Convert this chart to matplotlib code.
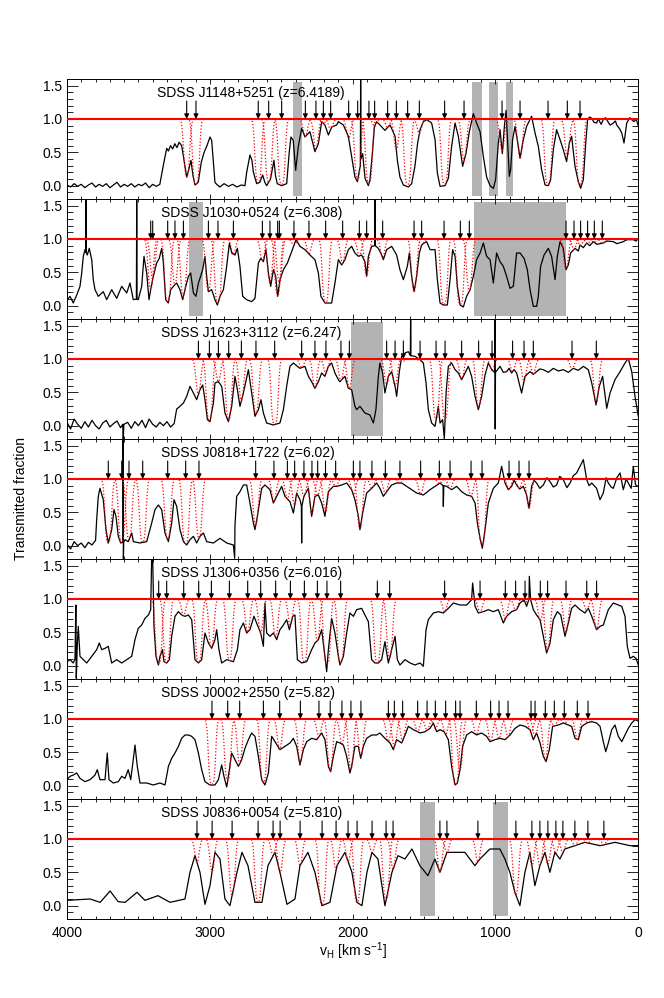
import numpy as np
import matplotlib.pyplot as plt
from matplotlib.ticker import MultipleLocator

plt.rcParams['font.family'] = ['Liberation Sans', 'DejaVu Sans']

names = ['SDSS J1148+5251 (z=6.4189)', 'SDSS J1030+0524 (z=6.308)',
         'SDSS J1623+3112 (z=6.247)', 'SDSS J0818+1722 (z=6.02)',
         'SDSS J1306+0356 (z=6.016)', 'SDSS J0002+2550 (z=5.82)',
         'SDSS J0836+0054 (z=5.810)']

# (velocity km/s, transmitted fraction)
spec1 = [(4000,0.01),(3975,-0.02),(3950,0.03),(3925,-0.01),(3900,0.02),(3875,-0.03),(3850,0.01),(3825,0.04),
         (3800,-0.02),(3775,0.02),(3750,-0.01),(3725,0.03),(3700,-0.03),(3675,0.01),(3650,0.05),(3625,-0.02),
         (3600,0.02),(3575,-0.01),(3550,0.03),(3525,-0.02),(3500,0.02),(3475,0.0),(3450,0.04),(3425,-0.03),
         (3400,0.02),(3375,-0.01),(3350,0.02),(3326,0.3),(3302,0.56),(3290,0.52),(3275,0.6),(3260,0.55),
         (3245,0.63),(3230,0.57),(3215,0.65),(3197,0.6),(3186,0.45),(3162,0.13),(3150,0.22),(3132,0.38),
         (3118,0.15),(3104,0.01),(3081,0.05),(3060,0.35),(3040,0.5),(3020,0.6),(2999,0.73),(2987,0.68),
         (2975,0.35),(2964,0.05),(2952,0.02),(2930,-0.02),(2900,0.03),(2870,-0.01),(2840,0.02),(2810,-0.02),
         (2780,0.01),(2754,0.0),(2742,0.2),(2719,0.46),(2705,0.38),(2695,0.2),(2672,0.03),(2650,0.05),
         (2630,0.16),(2615,0.05),(2602,0.0),(2575,0.1),(2551,0.38),(2540,0.15),(2528,0.03),(2497,0.0),
         (2462,0.03),(2444,0.5),(2432,0.73),(2416,0.68),(2399,0.23),(2381,0.58),(2357,0.86),(2334,0.73),
         (2299,0.81),(2264,0.51),(2240,0.63),(2217,0.96),(2194,0.91),(2170,0.76),(2147,0.88),(2112,0.91),
         (2100,0.96),(2065,0.91),(2030,0.74),(2007,0.44),(1984,0.13),(1967,0.06),(1953,0.23),(1946,0.3),
         (1944,1.65),(1942,0.4),(1930,0.48),(1913,0.11),(1890,0.0),(1879,0.09),(1862,0.48),(1848,0.88),
         (1832,0.96),(1809,0.91),(1774,0.83),(1738,0.91),(1703,0.74),(1687,0.38),(1669,0.13),(1645,0.01),
         (1610,-0.02),(1587,0.03),(1564,0.29),(1545,0.64),(1528,0.84),(1505,0.96),(1482,0.99),(1447,0.94),
         (1423,0.69),(1407,0.19),(1388,-0.01),(1353,0.0),(1330,0.11),(1307,0.59),(1283,0.94),(1260,0.74),
         (1230,0.29),(1206,0.49),(1183,0.81),(1155,1.08),(1132,0.94),(1108,0.81),(1085,0.44),(1062,0.13),
         (1038,0.0),(1015,-0.04),(999,0.09),(980,0.64),(968,0.84),(952,0.48),(938,0.88),(926,1.13),
         (915,0.64),(903,0.14),(894,0.24),(880,0.69),(863,0.89),(840,0.59),(828,0.41),(805,0.69),
         (782,0.89),(747,1.04),(723,0.79),(700,0.59),(677,0.24),(653,0.01),(630,0.0),(614,0.09),
         (595,0.54),(572,0.84),(548,0.69),(525,0.54),(502,0.36),(483,0.64),(467,0.74),(443,0.29),
         (420,0.06),(404,-0.04),(385,0.09),(368,0.64),(355,0.99),(340,1.03),(326,1.01),(310,0.95),
         (292,0.94),(280,1.0),(260,0.92),(245,0.99),(230,1.02),(210,0.95),(198,0.91),(180,0.93),
         (160,0.97),(151,0.91),(130,0.85),(116,0.79),(100,0.64),(81,0.94),(60,1.02),(46,0.99),
         (30,0.96),(15,1.0),(0,0.9)]

spec2 = [(4000,0.08),(3979,0.14),(3956,0.04),(3932,0.16),(3909,0.29),(3897,0.49),(3886,0.74),(3874,0.84),
         (3869,0.8),(3867,1.65),(3865,0.8),(3858,0.76),(3844,0.86),(3827,0.69),(3816,0.39),(3804,0.24),
         (3781,0.14),(3746,0.21),(3722,0.09),(3687,0.24),(3652,0.11),(3617,0.29),(3582,0.19),(3559,0.34),
         (3536,0.09),(3514,0.1),(3512,1.65),(3510,0.1),(3501,0.09),(3477,0.29),(3461,0.74),(3442,0.49),
         (3426,0.09),(3414,0.24),(3396,0.44),(3372,0.64),(3354,0.71),(3337,0.86),(3326,0.66),(3309,0.09),
         (3291,0.04),(3274,0.24),(3255,0.29),(3232,0.34),(3209,0.24),(3190,0.09),(3174,0.24),(3150,0.44),
         (3134,0.49),(3115,0.19),(3097,0.14),(3080,0.34),(3069,0.41),(3050,0.54),(3034,0.74),(3022,0.44),
         (3010,0.21),(2987,0.24),(2964,0.09),(2947,0.01),(2929,0.14),(2905,0.24),(2882,0.59),(2863,0.94),
         (2847,0.79),(2824,0.76),(2807,0.86),(2789,0.59),(2770,0.14),(2742,0.09),(2707,0.06),(2684,0.11),
         (2660,0.64),(2644,0.71),(2625,0.66),(2607,0.84),(2590,0.49),(2574,0.29),(2555,0.54),(2539,0.44),
         (2525,0.14),(2509,0.39),(2485,0.54),(2457,0.64),(2427,0.81),(2397,0.99),(2369,0.89),(2334,0.84),
         (2299,0.76),(2264,0.69),(2240,0.49),(2222,0.14),(2194,0.04),(2147,0.04),(2124,0.34),(2100,0.69),
         (2077,0.61),(2054,0.69),(2030,0.84),(2007,0.89),(1984,0.79),(1960,0.74),(1937,0.76),(1914,0.66),
         (1902,0.44),(1890,0.74),(1867,0.89),(1846,0.9),(1844,1.65),(1842,0.9),(1820,0.86),(1797,0.76),
         (1785,0.69),(1762,0.84),(1727,0.89),(1692,0.76),(1669,0.54),(1645,0.39),(1617,0.59),(1603,0.79),
         (1587,0.44),(1570,0.21),(1552,0.44),(1533,0.79),(1517,0.91),(1500,0.94),(1482,0.96),(1458,0.84),
         (1423,0.84),(1407,0.39),(1388,0.04),(1365,0.01),(1337,0.01),(1318,0.39),(1300,0.84),(1283,0.74),
         (1267,0.29),(1248,0.01),(1225,-0.02),(1202,0.14),(1178,0.24),(1155,0.44),(1132,0.69),(1108,0.79),
         (1085,0.94),(1062,0.74),(1038,0.69),(1015,0.34),(992,0.79),(968,0.66),(945,0.59),(922,0.44),
         (898,0.26),(875,0.29),(852,0.79),(828,0.79),(800,0.71),(777,0.54),(758,0.24),(735,-0.01),
         (712,-0.01),(700,0.14),(684,0.59),(660,0.76),(630,0.86),(607,0.74),(583,0.39),(567,0.74),
         (548,0.96),(525,0.86),(506,0.54),(490,0.61),(474,0.79),(443,0.86),(420,0.82),(408,0.91),
         (385,0.87),(361,0.94),(340,0.9),(315,0.96),(290,0.92),(245,0.94),(220,0.97),(175,0.96),
         (150,0.93),(105,0.96),(80,0.99),(35,0.99),(15,0.97),(0,1.01)]

spec3 = [(4000,0.05),(3975,-0.05),(3950,0.1),(3925,0.02),(3900,-0.04),(3875,0.06),(3850,-0.02),(3825,0.08),
         (3800,0.0),(3775,-0.05),(3750,0.04),(3725,0.08),(3700,-0.02),(3675,0.03),(3650,0.07),(3625,-0.03),
         (3610,0.02),(3606,-0.2),(3602,0.02),(3575,0.05),(3550,-0.04),(3525,0.06),(3500,0.0),(3475,0.08),
         (3450,-0.03),(3425,0.1),(3400,0.02),(3375,-0.02),(3350,0.05),(3325,0.0),(3300,0.06),(3275,-0.02),
         (3250,0.03),(3232,0.25),(3209,0.29),(3185,0.34),(3162,0.44),(3139,0.59),(3115,0.49),(3092,0.39),
         (3069,0.54),(3050,0.61),(3034,0.39),(3017,0.09),(2999,0.06),(2975,0.34),(2964,0.64),(2940,0.66),
         (2917,0.59),(2894,0.19),(2870,0.06),(2847,0.29),(2824,0.74),(2807,0.54),(2789,0.29),(2765,0.49),
         (2730,0.84),(2707,0.49),(2684,0.14),(2660,0.24),(2642,0.39),(2625,0.19),(2602,0.04),(2555,0.01),
         (2509,0.04),(2485,0.24),(2462,0.59),(2439,0.89),(2415,0.94),(2369,0.86),(2334,0.89),(2310,0.74),
         (2287,0.66),(2264,0.56),(2240,0.66),(2217,0.79),(2194,0.74),(2170,0.89),(2147,0.94),(2124,0.79),
         (2100,0.69),(2089,0.66),(2054,0.74),(2030,0.56),(2007,0.54),(1984,0.29),(1972,0.24),(1949,0.29),
         (1914,0.19),(1879,0.16),(1855,0.04),(1837,0.24),(1820,0.74),(1809,0.94),(1790,0.79),(1774,0.49),
         (1750,0.74),(1727,0.81),(1703,0.59),(1692,0.44),(1673,0.81),(1657,1.04),(1633,1.09),(1610,1.11),
         (1596,1.05),(1594,1.65),(1592,1.05),(1564,1.04),(1528,0.99),(1505,0.94),(1486,0.64),(1470,0.24),
         (1447,0.04),(1423,-0.01),(1400,0.29),(1388,0.04),(1370,0.09),(1358,-0.2),(1346,0.49),(1330,0.89),
         (1307,0.94),(1283,0.84),(1260,0.79),(1237,0.69),(1213,0.79),(1190,0.89),(1167,0.74),(1143,0.44),
         (1120,0.24),(1097,0.44),(1073,0.76),(1050,0.94),(1027,0.84),(1006,0.8),(1004,1.62),(1002,-0.05),
         (1000,0.8),(968,0.89),(945,0.8),(922,0.81),(905,0.86),(887,0.79),(870,0.84),(852,0.79),(817,0.49),
         (793,0.74),(758,0.81),(735,0.77),(712,0.81),(690,0.85),(665,0.84),(630,0.8),(595,0.86),(560,0.82),
         (525,0.84),(490,0.8),(455,0.86),(420,0.83),(385,0.89),(350,0.84),(326,0.64),(296,0.31),(273,0.59),
         (250,0.74),(221,0.26),(198,0.49),(163,0.69),(128,0.81),(93,0.94),(70,1.01),(46,0.81),(23,0.44),
         (0,0.14)]

spec4 = [(4000,0.02),(3975,-0.05),(3950,0.06),(3925,0.0),(3900,0.04),(3875,-0.03),(3850,0.05),(3825,0.01),
         (3800,0.08),(3792,0.4),(3781,0.74),(3769,0.86),(3746,0.69),(3727,0.24),(3711,0.04),(3687,0.24),
         (3671,0.54),(3657,0.44),(3641,0.14),(3624,0.04),(3608,0.05),(3607,1.65),(3605,-0.2),(3603,0.05),
         (3594,0.09),(3571,0.06),(3547,0.19),(3535,0.06),(3489,0.04),(3442,0.06),(3407,0.34),(3384,0.54),
         (3360,0.61),(3337,0.54),(3314,0.19),(3290,0.06),(3267,0.34),(3251,0.69),(3232,0.59),(3209,0.24),
         (3185,0.06),(3162,0.01),(3139,0.09),(3115,0.14),(3092,0.04),(3069,0.14),(3045,0.19),(3022,0.06),
         (2975,0.04),(2929,0.11),(2882,0.04),(2835,0.01),(2826,-0.19),(2824,0.3),(2812,0.74),(2789,0.81),
         (2765,0.91),(2742,0.91),(2719,0.64),(2695,0.34),(2684,0.24),(2667,0.44),(2637,0.86),(2614,0.91),
         (2579,0.84),(2555,0.64),(2532,0.74),(2497,0.89),(2474,0.74),(2439,0.66),(2415,0.49),(2392,0.79),
         (2369,0.69),(2359,0.6),(2357,0.04),(2355,0.6),(2341,0.74),(2310,0.86),(2287,0.44),(2264,0.74),
         (2240,0.76),(2217,0.64),(2194,0.44),(2170,0.81),(2135,0.89),(2112,0.89),(2077,0.91),(2042,0.94),
         (2007,0.84),(1984,0.69),(1960,0.44),(1949,0.24),(1930,0.49),(1902,0.79),(1867,0.86),(1832,0.94),
         (1809,0.86),(1785,0.74),(1762,0.81),(1727,0.91),(1692,0.94),(1657,0.94),(1622,0.89),(1587,0.84),
         (1552,0.79),(1505,0.76),(1458,0.84),(1423,0.89),(1388,0.94),(1367,0.9),(1365,0.59),(1362,0.9),
         (1342,0.89),(1307,0.84),(1272,0.89),(1237,0.81),(1202,0.76),(1167,0.74),(1143,0.64),(1127,0.34),
         (1108,0.11),(1092,-0.04),(1073,0.24),(1050,0.64),(1015,0.86),(980,0.94),(957,1.19),(933,0.94),
         (910,0.84),(887,0.89),(870,0.98),(852,0.91),(830,0.85),(805,0.89),(782,0.76),(765,0.56),
         (747,0.89),(730,0.98),(712,0.94),(690,0.86),(665,0.91),(640,1.02),(618,0.96),(595,0.88),
         (572,0.91),(550,1.04),(525,0.99),(500,0.87),(478,0.94),(455,1.05),(432,1.09),(408,1.19),
         (385,1.29),(361,0.99),(345,0.9),(326,0.94),(292,0.86),(268,0.69),(245,0.79),(225,1.02),
         (210,0.94),(190,0.88),(175,0.86),(150,1.02),(128,1.09),(105,0.84),(85,1.0),(70,0.94),
         (50,0.86),(35,1.19),(20,0.92),(11,0.89),(0,0.9)]

spec5 = [(4000,0.06),(3979,0.09),(3956,0.04),(3944,0.1),(3938,0.91),(3935,-0.19),(3928,0.3),(3921,0.59),
         (3909,0.14),(3886,0.09),(3862,0.04),(3827,0.14),(3792,0.24),(3774,0.34),(3757,0.24),(3734,0.26),
         (3711,0.29),(3687,0.04),(3652,0.09),(3617,0.04),(3582,0.09),(3547,0.14),(3524,0.39),(3501,0.56),
         (3477,0.61),(3454,0.71),(3430,0.76),(3414,0.84),(3407,1.65),(3400,1.6),(3391,0.59),(3377,0.14),
         (3360,0.01),(3349,0.14),(3332,0.24),(3321,0.06),(3302,0.04),(3283,0.09),(3267,0.44),(3244,0.74),
         (3220,0.81),(3197,0.76),(3174,0.74),(3150,0.76),(3127,0.69),(3104,0.09),(3080,0.04),(3057,0.09),
         (3034,0.49),(3010,0.34),(2987,0.26),(2964,0.39),(2952,0.54),(2936,0.24),(2917,0.04),(2882,0.09),
         (2835,0.06),(2807,0.24),(2789,0.54),(2765,0.64),(2742,0.49),(2719,0.54),(2691,0.74),(2672,0.64),
         (2644,0.49),(2625,0.29),(2614,0.94),(2602,0.49),(2579,0.44),(2555,0.49),(2532,0.39),(2509,0.54),
         (2485,0.61),(2462,0.69),(2443,0.54),(2420,0.74),(2404,0.76),(2387,0.09),(2357,0.04),(2322,0.06),
         (2287,0.24),(2264,0.34),(2240,0.39),(2217,0.54),(2194,0.14),(2182,-0.09),(2170,0.24),(2147,0.71),
         (2124,0.49),(2100,0.14),(2089,0.01),(2065,0.14),(2042,0.49),(2019,0.79),(1995,0.74),(1972,0.84),
         (1937,0.86),(1914,0.76),(1890,0.66),(1867,0.09),(1844,0.04),(1820,0.04),(1797,0.09),(1774,0.36),
         (1750,0.04),(1727,0.24),(1703,0.44),(1687,0.09),(1669,0.01),(1633,0.09),(1598,0.04),(1564,0.01),
         (1528,0.04),(1505,-0.01),(1486,0.54),(1470,0.69),(1435,0.79),(1400,0.81),(1365,0.79),(1330,0.86),
         (1295,0.94),(1248,0.91),(1202,0.91),(1167,0.99),(1160,1.24),(1143,0.89),(1120,0.79),(1085,0.81),
         (1050,0.84),(1015,0.81),(980,0.84),(945,0.64),(922,0.74),(887,0.81),(852,0.84),(828,0.94),
         (800,0.99),(782,0.89),(765,1.0),(763,1.34),(754,0.99),(735,0.84),(712,0.76),(688,0.69),(665,0.44),
         (642,0.19),(618,0.34),(595,0.69),(567,0.81),(543,0.76),(513,0.44),(490,0.64),(467,0.86),
         (443,0.91),(408,0.84),(373,0.79),(350,0.86),(326,0.74),(292,0.54),(268,0.59),(245,0.61),
         (210,0.84),(175,0.94),(140,0.91),(116,0.89),(93,0.74),(77,0.29),(58,0.11),(35,0.14),(16,0.11),
         (0,0.01)]

spec6 = [(4000,0.09),(3979,0.14),(3956,0.16),(3932,0.19),(3909,0.11),(3874,0.06),(3839,0.09),(3804,0.16),
         (3788,0.24),(3769,0.09),(3734,0.09),(3718,0.49),(3706,0.09),(3676,0.04),(3641,0.06),(3617,0.14),
         (3594,0.11),(3571,0.24),(3554,0.09),(3536,0.39),(3524,0.61),(3508,0.29),(3489,0.04),(3442,0.04),
         (3396,0.01),(3349,0.04),(3314,0.01),(3290,0.29),(3267,0.41),(3244,0.49),(3220,0.59),(3197,0.71),
         (3174,0.76),(3150,0.76),(3127,0.74),(3104,0.69),(3080,0.49),(3057,0.24),(3034,0.06),(2999,0.01),
         (2964,0.01),(2940,0.09),(2917,0.31),(2901,0.14),(2882,-0.02),(2863,0.24),(2847,0.49),(2824,0.39),
         (2800,0.29),(2777,0.39),(2754,0.56),(2730,0.69),(2707,0.79),(2684,0.74),(2660,0.44),(2637,0.09),
         (2614,0.01),(2590,0.19),(2567,0.74),(2544,0.66),(2509,0.54),(2474,0.59),(2439,0.64),(2415,0.71),
         (2392,0.59),(2369,0.31),(2345,0.54),(2322,0.66),(2287,0.71),(2252,0.69),(2217,0.79),(2194,0.69),
         (2170,0.29),(2154,0.21),(2135,0.44),(2112,0.66),(2089,0.64),(2065,0.61),(2042,0.44),(2019,0.19),
         (2007,0.29),(1984,0.59),(1960,0.59),(1944,0.41),(1925,0.59),(1902,0.71),(1867,0.76),(1832,0.76),
         (1809,0.79),(1774,0.71),(1738,0.64),(1715,0.54),(1692,0.69),(1657,0.64),(1633,0.76),(1610,0.89),
         (1575,0.84),(1528,0.79),(1493,0.81),(1458,0.86),(1435,0.94),(1412,0.81),(1388,0.84),(1360,0.81),
         (1330,0.69),(1307,0.29),(1283,0.01),(1267,0.04),(1248,0.24),(1230,0.59),(1202,0.76),(1167,0.81),
         (1132,0.76),(1097,0.79),(1062,0.74),(1038,0.66),(1003,0.69),(968,0.71),(933,0.69),(898,0.76),
         (863,0.86),(828,0.91),(793,0.89),(758,0.84),(735,0.69),(712,0.79),(688,0.64),(665,0.44),
         (646,0.36),(623,0.54),(600,0.89),(560,0.91),(525,0.94),(490,0.91),(467,0.89),(443,0.71),
         (420,0.69),(396,0.89),(361,0.94),(326,0.96),(292,0.94),(268,0.89),(245,0.66),(228,0.51),
         (210,0.64),(186,0.84),(163,0.91),(140,0.74),(116,0.66),(93,0.76),(70,0.86),(46,0.94),(23,0.99),
         (0,0.97)]

spec7 = [(4000,0.08),(3838,0.1),(3768,0.05),(3698,0.22),(3642,0.06),(3593,0.05),(3510,0.2),(3454,0.08),
         (3363,0.15),(3279,0.05),(3174,0.1),(3139,0.5),(3104,0.75),(3069,0.5),(3034,0.02),(2999,0.3),
         (2964,0.8),(2929,0.7),(2894,0.1),(2859,0.0),(2810,0.5),(2775,0.8),(2733,0.6),(2684,0.05),
         (2635,0.05),(2593,0.6),(2544,0.8),(2509,0.5),(2460,0.02),(2404,0.1),(2369,0.6),(2313,0.8),
         (2264,0.5),(2215,0.0),(2159,0.05),(2110,0.6),(2054,0.8),(2005,0.5),(1970,0.05),(1935,0.0),
         (1900,0.5),(1865,0.8),(1823,0.7),(1774,0.0),(1725,0.5),(1683,0.75),(1634,0.7),(1585,0.85),
         (1529,0.6),(1473,0.45),(1424,0.7),(1389,0.5),(1340,0.8),(1284,0.8),(1214,0.8),(1144,0.6),
         (1109,0.7),(1039,0.85),(969,0.85),(934,0.7),(899,0.5),(864,0.2),(829,0.0),(794,0.5),(759,0.8),
         (724,0.3),(689,0.6),(654,0.8),(619,0.5),(584,0.8),(549,0.7),(514,0.85),(444,0.9),(374,0.95),
         (268,0.9),(163,0.95),(58,0.9),(0,0.9)]

arrows1 = [3162, 3097, 2661, 2588, 2497, 2331, 2257, 2205, 2154, 2028, 1965, 1886, 1846, 1755, 1694,
           1615, 1533, 1356, 1220, 954, 828, 632, 497, 408]
arrows2 = [3414, 3400, 3295, 3244, 3185, 3010, 2943, 2835, 2632, 2579, 2525, 2513, 2411, 2306, 2189,
           2070, 1953, 1902, 1790, 1570, 1517, 1360, 1246, 1183, 506, 450, 404, 355, 308, 252]
arrows3 = [3080, 3003, 2940, 2868, 2779, 2677, 2546, 2357, 2264, 2187, 2082, 2023, 1762, 1703, 1645,
           1528, 1416, 1353, 1237, 1118, 1024, 880, 800, 735, 464, 294]
arrows4 = [3711, 3617, 3566, 3470, 3295, 3169, 3076, 2679, 2551, 2457, 2406, 2341, 2285, 2245, 2190,
           2119, 1995, 1949, 1865, 1771, 1669, 1524, 1393, 1318, 1171, 1094, 905, 835, 765]
arrows5 = [3358, 3302, 3183, 3078, 2989, 2863, 2735, 2644, 2539, 2436, 2338, 2247, 2180, 2084, 1827,
           1741, 1356, 1108, 931, 859, 793, 686, 635, 506, 361, 292]
arrows6 = [2985, 2875, 2791, 2625, 2511, 2366, 2236, 2157, 2075, 2012, 1942, 1750, 1708, 1650, 1545,
           1479, 1421, 1349, 1279, 1248, 1134, 1034, 975, 912, 751, 723, 651, 588, 518, 427, 352]
arrows7 = [3090, 2984, 2844, 2662, 2557, 2508, 2368, 2214, 2116, 2032, 1969, 1864, 1766, 1717, 1389,
           1340, 1123, 857, 745, 689, 633, 577, 528, 444, 353, 241]

gray1 = [(2420, 2352), (1162, 1096), (1045, 980), (928, 879)]
gray2 = [(3146, 3046), (1150, 506)]
gray3 = [(2011, 1785)]
gray4 = []
gray5 = []
gray6 = []
gray7 = [(1528, 1423), (1017, 912)]

spectra = [spec1, spec2, spec3, spec4, spec5, spec6, spec7]
arrows = [arrows1, arrows2, arrows3, arrows4, arrows5, arrows6, arrows7]
grays = [gray1, gray2, gray3, gray4, gray5, gray6, gray7]
label_x = [3370, 3342, 3342, 3342, 3342, 3342, 3342]

fig = plt.figure(figsize=(6.64, 9.98), dpi=100)
left, width = 67 / 664, 571.3 / 664
ph = 120 / 998
top = 1 - 79 / 998

for k in range(7):
    ax = fig.add_axes([left, top - ph * (k + 1), width, ph])
    sp = np.array(spectra[k])
    vv, ff = sp[:, 0], sp[:, 1]

    for a, b in grays[k]:
        ax.fill_between([b, a], -0.15, 1.55, color='#b3b3b3', lw=0, zorder=0)

    ax.plot(vv, ff, color='black', lw=0.9, zorder=2)

    # individual absorber profiles (dotted red)
    for v0 in arrows[k]:
        fmin = np.clip(np.interp(v0, vv[::-1], ff[::-1]), 0.02, 0.97)
        tau0 = -np.log(fmin)
        dv = np.linspace(-75, 75, 80)
        prof = np.exp(-tau0 * np.exp(-(dv / 20.0) ** 2))
        ax.plot(v0 + dv, prof, color='red', lw=0.9, ls=(0, (1, 1.6)), zorder=3)

    ax.axhline(1.0, color='red', lw=1.5, zorder=4)

    for v0 in arrows[k]:
        ax.annotate('', xy=(v0, 1.0), xytext=(v0, 1.27),
                    arrowprops=dict(arrowstyle='-|>', color='black', lw=0.8,
                                    mutation_scale=7, shrinkA=0, shrinkB=0), zorder=5)

    ax.text(label_x[k], 1.39, names[k], fontsize=10, va='center', ha='left', zorder=6)

    ax.set_xlim(4000, 0)
    ax.set_ylim(-0.2, 1.6)
    ax.xaxis.set_major_locator(MultipleLocator(1000))
    ax.xaxis.set_minor_locator(MultipleLocator(100))
    ax.yaxis.set_major_locator(MultipleLocator(0.5))
    ax.yaxis.set_minor_locator(MultipleLocator(0.1))
    ax.set_yticks([0, 0.5, 1.0, 1.5])
    ax.set_yticklabels(['0.0', '0.5', '1.0', '1.5'], fontsize=10)
    ax.tick_params(axis='y', which='major', direction='in', length=8, width=0.6, left=True, right=True)
    ax.tick_params(axis='y', which='minor', direction='in', length=4, width=0.6, left=True, right=True)
    ax.tick_params(axis='x', which='major', direction='in', length=3.5, width=0.6, top=True, bottom=True,
                   pad=5)
    ax.tick_params(axis='x', which='minor', direction='in', length=2, width=0.6, top=True, bottom=True)
    for s in ax.spines.values():
        s.set_linewidth(0.7)
    if k < 6:
        ax.set_xticklabels([])
    else:
        ax.set_xticks([4000, 3000, 2000, 1000, 0])
        ax.set_xticklabels(['4000', '3000', '2000', '1000', '0'], fontsize=10)
        ax.set_xlabel(r'v$_\mathregular{H}$ [km s$^\mathregular{-1}$]', fontsize=10, labelpad=0)

fig.text(0.032, 0.5, 'Transmitted fraction', rotation=90, va='center', ha='center', fontsize=10)

fig.savefig('out.png', dpi=100)
